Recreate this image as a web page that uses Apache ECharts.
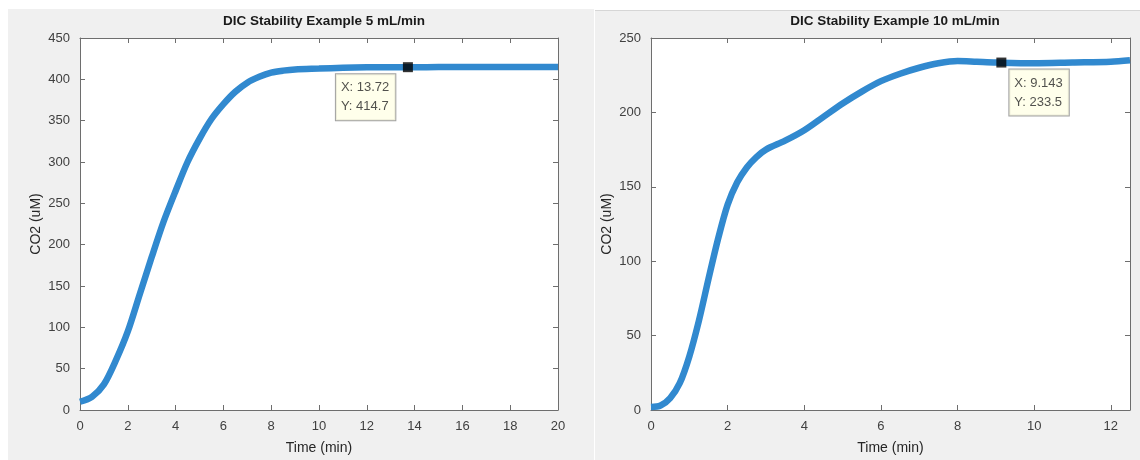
<!DOCTYPE html>
<html>
<head>
<meta charset="utf-8">
<script src="https://cdn.jsdelivr.net/npm/echarts@6/dist/echarts.min.js"></script>
<style>
  html, body { margin: 0; padding: 0; background: #fff; }
  #wrap { position: relative; width: 1140px; height: 460px; overflow: hidden; }
  .panel { position: absolute; background: #f0f0f0; }
  #chart { position: absolute; left: 0; top: 0; width: 1140px; height: 460px; }
</style>
</head>
<body>
<div id="wrap">
  <div class="panel" style="left:8px;top:9px;width:586px;height:451px;"></div>
  <div class="panel" style="left:595px;top:10px;width:545px;height:450px;border-top:1px solid #d6d6d6;"></div>
  <div id="chart"></div>
</div>
<script>
// 5 mL/min run
const time5 = [0, 0.5, 1, 1.5, 2, 2.5, 3, 3.5, 4, 4.5, 5, 5.5, 6, 6.5, 7, 7.5, 8, 8.5, 9, 10, 11, 12, 13, 14, 15, 16, 17, 18, 19, 20]
const co2_5 = [10, 16, 31, 60, 95, 140, 185, 228, 265, 300, 328, 352, 370, 385, 396, 403, 408, 410.5, 412, 413, 414, 414.5, 414.7, 414.7, 414.8, 414.8, 414.9, 415, 415, 415]
// 10 mL/min run
const time10 = [0, 0.25, 0.5, 0.75, 1, 1.25, 1.5, 1.75, 2, 2.25, 2.5, 2.75, 3, 3.5, 4, 4.5, 5, 5.5, 6, 6.5, 7, 7.5, 8, 8.5, 9, 10, 11, 12, 12.5]
const co2_10 = [2, 3, 8, 18, 36, 60, 88, 115, 138, 153, 163, 170, 175, 181, 188, 197, 206, 214, 221, 226, 230, 233, 234.5, 234, 233.5, 233, 233.5, 234, 235]
// data tips
const tip5 = [13.72, 414.7]
const tip10 = [9.143, 233.5]
const titles = ['DIC Stability Example 5 mL/min', 'DIC Stability Example 10 mL/min']

const font = 'Liberation Sans, Arial, Helvetica, sans-serif'
const axisColor = '#6e6e6e'
const lineColor = '#3189cf'

function pairs(xs, ys) {
  return xs.map((x, i) => [x, ys[i]])
}

function xAxisFor(gridIndex, max, showMax) {
  return [
    {
      type: 'value', gridIndex: gridIndex, min: 0, max: max, interval: 2,
      name: 'Time (min)', nameLocation: 'middle', nameGap: 31,
      nameTextStyle: { fontFamily: font, fontSize: 14, color: '#262626' },
      axisLine: { show: true, onZero: false, lineStyle: { color: axisColor } },
      axisTick: { inside: true, length: 5, lineStyle: { color: axisColor } },
      axisLabel: { fontFamily: font, fontSize: 13, color: '#404040', margin: 10, showMaxLabel: showMax },
      splitLine: { show: false }
    },
    {
      type: 'value', gridIndex: gridIndex, position: 'top', min: 0, max: max, interval: 2,
      axisLine: { show: true, onZero: false, lineStyle: { color: axisColor } },
      axisTick: { inside: true, length: 5, lineStyle: { color: axisColor } },
      axisLabel: { show: false },
      splitLine: { show: false }
    }
  ]
}

function yAxisFor(gridIndex, max) {
  return [
    {
      type: 'value', gridIndex: gridIndex, min: 0, max: max, interval: 50,
      name: 'CO2 (uM)', nameLocation: 'middle', nameGap: 37,
      nameTextStyle: { fontFamily: font, fontSize: 14, color: '#262626' },
      axisLine: { show: true, onZero: false, lineStyle: { color: axisColor } },
      axisTick: { show: true, inside: true, length: 5, lineStyle: { color: axisColor } },
      axisLabel: { fontFamily: font, fontSize: 13, color: '#404040', margin: 10 },
      splitLine: { show: false }
    },
    {
      type: 'value', gridIndex: gridIndex, position: 'right', min: 0, max: max, interval: 50,
      axisLine: { show: true, onZero: false, lineStyle: { color: axisColor } },
      axisTick: { show: true, inside: true, length: 5, lineStyle: { color: axisColor } },
      axisLabel: { show: false },
      splitLine: { show: false }
    }
  ]
}

function tipSeries(xIdx, yIdx, tip, offset) {
  return {
    type: 'scatter', xAxisIndex: xIdx, yAxisIndex: yIdx,
    symbol: 'rect', symbolSize: 10, z: 5,
    itemStyle: { color: '#000' },
    data: [tip],
    label: {
      show: true,
      position: offset,
      formatter: 'X: ' + tip[0] + '\nY: ' + tip[1],
      fontFamily: font, fontSize: 13, color: '#262626', lineHeight: 19,
      backgroundColor: '#ffffe6', borderColor: '#8a8a8a', borderWidth: 1,
      padding: [4, 6, 4, 5], align: 'left', verticalAlign: 'top'
    }
  }
}

const chart = echarts.init(document.getElementById('chart'))
chart.setOption({
  backgroundColor: 'transparent',
  animation: false,
  title: [
    { text: titles[0], left: 319, top: 9, textAlign: 'center',
      textStyle: { fontFamily: font, fontSize: 13.5, fontWeight: 'bold', color: '#1a1a1a' } },
    { text: titles[1], left: 890, top: 9, textAlign: 'center',
      textStyle: { fontFamily: font, fontSize: 13.5, fontWeight: 'bold', color: '#1a1a1a' } }
  ],
  grid: [
    { left: 80, top: 38, width: 478, height: 377, show: true, backgroundColor: '#fff', borderWidth: 0 },
    { left: 651, top: 38, width: 479, height: 377, show: true, backgroundColor: '#fff', borderWidth: 0 }
  ],
  xAxis: [...xAxisFor(0, 20, true), ...xAxisFor(1, 12.5, false)],
  yAxis: [...yAxisFor(0, 450), ...yAxisFor(1, 250)],
  series: [
    {
      type: 'line', xAxisIndex: 0, yAxisIndex: 0, smooth: 0.3, showSymbol: false,
      lineStyle: { color: lineColor, width: 6.5 },
      data: pairs(time5, co2_5)
    },
    {
      type: 'line', xAxisIndex: 2, yAxisIndex: 2, smooth: 0.3, showSymbol: false,
      lineStyle: { color: lineColor, width: 6.5 },
      data: pairs(time10, co2_10)
    },
    tipSeries(0, 0, tip5, [-67, 12]),
    tipSeries(2, 2, tip10, [13, 12])
  ]
})
</script>
</body>
</html>
